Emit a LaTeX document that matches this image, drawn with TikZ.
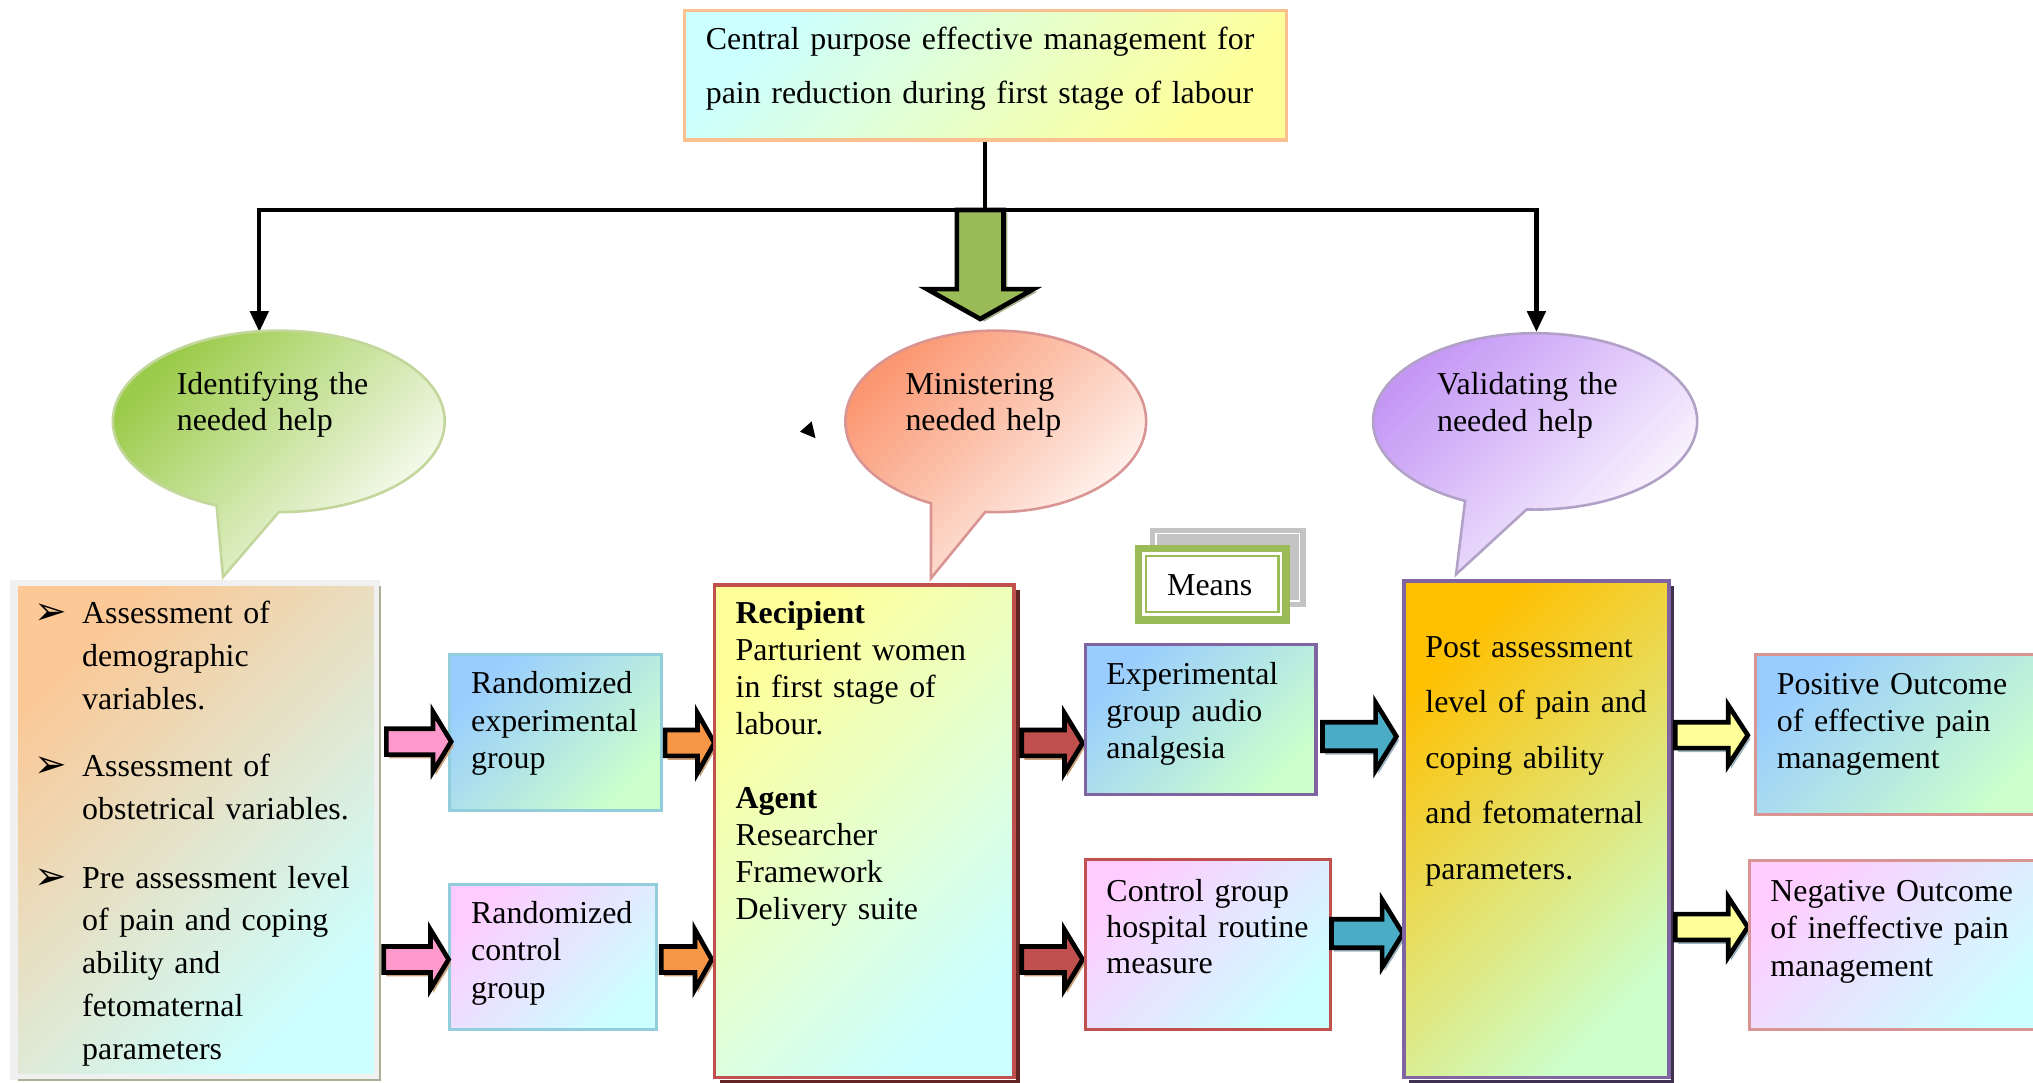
\documentclass[tikz,border=0pt]{standalone}
\usepackage{fontspec}
\setmainfont{Liberation Serif}
\newfontfamily\symfont{DejaVu Sans}
\usetikzlibrary{arrows.meta,fit,calc}

\definecolor{cyanL}{HTML}{CCFFFF}
\definecolor{yellowL}{HTML}{FFFF99}
\definecolor{blueL}{HTML}{99CCFF}
\definecolor{greenL}{HTML}{CCFFCC}
\definecolor{pinkL}{HTML}{FFCCFF}
\definecolor{orangeL}{HTML}{FBC896}
\definecolor{goldD}{HTML}{FFC000}
\definecolor{peachB}{HTML}{FAC090}
\definecolor{aquaB}{HTML}{92CDDC}
\definecolor{redB}{HTML}{C0504D}
\definecolor{purpB}{HTML}{8064A2}
\definecolor{roseB}{HTML}{D99594}
\definecolor{mgreen}{HTML}{9BBB59}
\definecolor{mgray}{HTML}{C4C4C4}
\definecolor{frameg}{HTML}{F0F0F0}
\definecolor{frameD}{HTML}{A9B096}
\definecolor{bgreen}{HTML}{9BCB4A}
\definecolor{bgreenB}{HTML}{C3D69B}
\definecolor{bsalmon}{HTML}{FA9670}
\definecolor{bpurple}{HTML}{C497F5}
\definecolor{bpurpleB}{HTML}{B2A1C7}
\definecolor{arrpink}{HTML}{FF99CC}
\definecolor{arrorange}{HTML}{F79646}
\definecolor{arrred}{HTML}{C0504D}
\definecolor{arrteal}{HTML}{4BACC6}
\definecolor{arryellow}{HTML}{FFFF99}
\definecolor{arrgreen}{HTML}{9BBB59}
\definecolor{arrtan}{HTML}{C9A07A}
\definecolor{arrgrayb}{HTML}{9EB4BE}
\definecolor{arrgreys}{HTML}{A6B08C}
\definecolor{shadred}{HTML}{632523}
\definecolor{shadpurp}{HTML}{3F3151}

\tikzset{
  pics/barrow/.style n args={4}{code={
    \fill[arrshadow] (2,-#2+3) -- (#1-#4+2,-#2+3) -- (#1-#4+2,-#3+3) -- (#1+2,3)
      -- (#1-#4+2,#3+3) -- (#1-#4+2,#2+3) -- (2,#2+3) -- cycle;
    \filldraw[fill=arrfill,draw=black,line width=1.8pt,line join=miter]
      (0,-#2) -- (#1-#4,-#2) -- (#1-#4,-#3) -- (#1,0) -- (#1-#4,#3) -- (#1-#4,#2) -- (0,#2) -- cycle;
  }},
  pink arrow/.code={\colorlet{arrfill}{arrpink}\colorlet{arrshadow}{arrtan}},
  orange arrow/.code={\colorlet{arrfill}{arrorange}\colorlet{arrshadow}{arrtan}},
  red arrow/.code={\colorlet{arrfill}{arrred}\colorlet{arrshadow}{arrtan}},
  teal arrow/.code={\colorlet{arrfill}{arrteal}\colorlet{arrshadow}{arrgrayb}},
  yellow arrow/.code={\colorlet{arrfill}{arryellow}\colorlet{arrshadow}{arrgrayb}},
  green arrow/.code={\colorlet{arrfill}{arrgreen}\colorlet{arrshadow}{arrgreys}},
}

\begin{document}
\begin{tikzpicture}[x=0.5pt,y=-0.5pt,
    txt/.style 2 args={anchor=base west,align=left,inner sep=0pt,text width=#1,
      font=\fontsize{12.3}{#2}\selectfont},
    box/.style={draw=#1,line width=1.2pt,inner sep=0pt},
    grad/.style 2 args={left color=#1,right color=#2,shading angle=45},
    link/.style={line width=1.6pt},
    tip/.style={-{Triangle[length=8pt,width=7pt]}},
    bubble/.style={draw=#1,line width=1pt}]
  \clip (0,0) rectangle (1568,835);

  % Central purpose
  \node[box=peachB,grad={cyanL}{yellowL},fit={(528,8) (992,108)}] (top) {};
  \node[txt={240pt}{21pt}] (topt) at (544,38)
    {Central purpose effective management for\\pain reduction during first stage of labour};

  % Connectors
  \coordinate (bar) at (760,162);
  \coordinate (idtip) at (200,256);
  \coordinate (valtip) at (1185,256);
  \draw[link] (top.south) -- (bar);
  \draw[link,tip] (bar) -| (idtip);
  \draw[link,tip] (bar) -| (valtip);
  \pic[green arrow,rotate=-90,yscale=-1] at (756,162) {barrow={84}{18}{41}{23}};

  % Bubbles
  \path[bubble=bgreenB,grad={bgreen}{white}] (215,325) ++(90:128 and 70)
    arc[start angle=90,end angle=-248,x radius=128,y radius=70] -- (172,445) -- cycle;
  \node[txt={80pt}{14pt}] (ident) at (136,304) {Identifying the\\needed help};
  \path[bubble=roseB,grad={bsalmon}{white}] (768,325) ++(94:116 and 70)
    arc[start angle=94,end angle=-244.5,x radius=116,y radius=70] -- (718,446) -- cycle;
  \node[txt={80pt}{14pt}] (minis) at (698,304) {Ministering\\needed help};
  \path[bubble=bpurpleB,grad={bpurple}{white}] (1184,325) ++(93:125 and 68)
    arc[start angle=93,end angle=-244.4,x radius=125,y radius=68] -- (1123,443) -- cycle;
  \node[txt={80pt}{14.5pt}] (valid) at (1108,304) {Validating the\\needed help};
  \fill (617,333) -- (626,325) -- (629,338) -- cycle;

  % Assessment
  \node[fill=frameg,inner sep=0pt,fit={(8,447) (293,833)}] (leftfr) {};
  \draw[frameD,line width=1pt] (293,452) -- (293,833) -- (14,833);
  \node[inner sep=0pt,grad={orangeL}{cyanL},fit={(14,452) (288,828)}] (assess) {};
  \foreach \y in {482,600,686}
    \node[anchor=base west,inner sep=0pt,font=\symfont\fontsize{15}{15}\selectfont] at (26,\y) {➢};
  \node[txt={115pt}{16.5pt}] (as1) at (63,481) {Assessment of\\demographic\\variables.};
  \node[txt={115pt}{16.5pt}] (as2) at (63,599) {Assessment of\\obstetrical variables.};
  \node[txt={115pt}{16.5pt}] (as3) at (63,685)
    {Pre assessment level\\of pain and coping\\ability and\\fetomaternal\\parameters};

  % Randomized groups
  \node[box=aquaB,grad={blueL}{greenL},fit={(347,505) (510,625)}] (rexp) {};
  \node[txt={75pt}{14.5pt}] (rexpt) at (363,535) {Randomized\\experimental\\group};
  \node[box=aquaB,grad={pinkL}{cyanL},fit={(347,682) (506,794)}] (rctl) {};
  \node[txt={75pt}{14.5pt}] (rctlt) at (363,712) {Randomized\\control\\group};
  \pic[pink arrow] at (298,572) {barrow={50}{10}{23}{14}};
  \pic[pink arrow] at (296,740) {barrow={50}{10}{23}{14}};
  \pic[orange arrow] at (513,573) {barrow={38}{10}{23}{13}};
  \pic[orange arrow] at (510,740) {barrow={39}{10}{23}{13}};

  % Recipient and agent
  \draw[shadred,line width=1.4pt] (785,455) -- (785,834) -- (555,834);
  \node[box=redB,line width=1.4pt,grad={yellowL}{cyanL},fit={(551,451) (782,831)}] (recip) {};
  \node[txt={110pt}{14.25pt}] (recipt) at (567,481)
    {\textbf{Recipient}\\Parturient women\\in first stage of\\labour.\\[14.25pt]
     \textbf{Agent}\\Researcher\\Framework\\Delivery suite};
  \pic[red arrow] at (788,573) {barrow={47}{10}{23}{14}};
  \pic[red arrow] at (788,740) {barrow={47}{10}{23}{14}};

  % Means
  \node[fill=mgray,inner sep=0pt,fit={(887,407) (1007,468)}] (meansbk) {};
  \draw[white,line width=.6pt] ($(meansbk.north west)+(5,5)$) rectangle ($(meansbk.south east)+(-5,-5)$);
  \node[draw=mgreen,fill=white,line width=3pt,inner sep=0pt,fit={(878,423) (992,478)}] (means) {};
  \draw[mgreen,line width=.9pt] ($(means.north west)+(9,9)$) rectangle ($(means.south east)+(-9,-9)$);
  \node[font=\fontsize{12.3}{14}\selectfont,inner sep=0pt] (meanst) at (933,451) {Means};

  % Interventions
  \node[box=purpB,grad={blueL}{greenL},fit={(837,497) (1015,613)}] (expg) {};
  \node[txt={85pt}{14.25pt}] (expgt) at (853,528) {Experimental\\group audio\\analgesia};
  \node[box=redB,grad={pinkL}{cyanL},fit={(837,663) (1026,794)}] (ctlg) {};
  \node[txt={90pt}{14pt}] (ctlgt) at (853,695) {Control group\\hospital routine\\measure};
  \pic[teal arrow] at (1020,568) {barrow={57}{11}{26}{16}};
  \pic[teal arrow] at (1027,720) {barrow={55}{11}{26}{16}};

  % Post assessment
  \draw[shadpurp,line width=1.4pt] (1290,452) -- (1290,834) -- (1087,834);
  \node[box=purpB,line width=1.4pt,grad={goldD}{greenL},fit={(1083,448) (1287,831)}] (post) {};
  \node[txt={95pt}{21.4pt}] (postt) at (1099,507)
    {Post assessment\\level of pain and\\coping ability\\and fetomaternal\\parameters.};
  \pic[yellow arrow] at (1292,567) {barrow={56}{10}{23}{15}};
  \pic[yellow arrow] at (1292,715) {barrow={56}{10}{23}{15}};

  % Outcomes
  \node[box=roseB,grad={blueL}{greenL},fit={(1354,505) (1580,628)}] (pos) {};
  \node[txt={100pt}{14.25pt}] (post1) at (1370,536) {Positive Outcome\\of effective pain\\management};
  \node[box=roseB,grad={pinkL}{cyanL},fit={(1349,664) (1580,794)}] (neg) {};
  \node[txt={100pt}{14.5pt}] (negt) at (1365,695) {Negative Outcome\\of ineffective pain\\management};
\end{tikzpicture}
\end{document}
